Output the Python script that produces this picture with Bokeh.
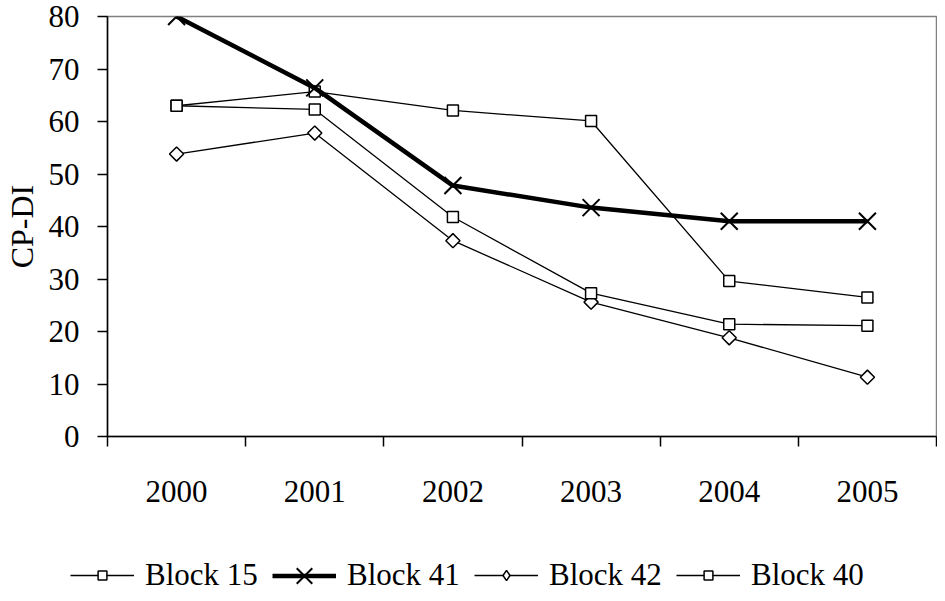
import math
from bokeh.plotting import figure
from bokeh.layouts import column
from bokeh.models import (Range1d, FixedTicker, Legend, LegendItem, ColumnDataSource)
from bokeh.embed import file_html
from bokeh.resources import INLINE

years = ["2000", "2001", "2002", "2003", "2004", "2005"]
block15 = [63.0, 65.7, 62.1, 60.1, 29.6, 26.5]
block41 = [80.0, 66.4, 47.8, 43.6, 41.0, 41.0]
block42 = [53.8, 57.8, 37.3, 25.6, 18.8, 11.3]
block40 = [63.0, 62.3, 41.8, 27.3, 21.4, 21.1]
y_ticks = [0, 10, 20, 30, 40, 50, 60, 70, 80]
labels = ["Block 15", "Block 41", "Block 42", "Block 40"]

FONT = "Liberation Serif"

x = [i + 0.5 for i in range(len(years))]
src = ColumnDataSource(dict(x=x, b15=block15, b41=block41, b42=block42, b40=block40))

p = figure(width=937, height=522, output_backend="svg", toolbar_location=None,
           x_range=Range1d(0, len(years)), y_range=Range1d(0, 80),
           min_border_left=107, min_border_right=1, min_border_top=16,
           min_border_bottom=86)
p.background_fill_color = "white"
p.border_fill_color = "white"
p.outline_line_color = "#808080"
p.outline_line_width = 1.5
p.xgrid.visible = False
p.ygrid.visible = False

# y axis
ya = p.yaxis[0]
ya.ticker = FixedTicker(ticks=y_ticks)
ya.axis_label = "CP-DI"
ya.axis_label_text_font = FONT
ya.axis_label_text_font_size = "32px"
ya.axis_label_text_font_style = "normal"
ya.axis_label_standoff = 6
ya.major_label_text_font = FONT
ya.major_label_text_font_size = "31px"
ya.major_label_standoff = 18
ya.major_tick_out = 10
ya.major_tick_in = 0
ya.minor_tick_line_color = None
ya.axis_line_width = 1.5
ya.major_tick_line_width = 1.5
ya.axis_line_color = "black"
ya.major_label_text_color = "black"
ya.axis_label_text_color = "black"

# x axis
xa = p.xaxis[0]
xa.ticker = FixedTicker(ticks=x, minor_ticks=list(range(len(years) + 1)))
xa.major_label_overrides = {xv: yr for xv, yr in zip(x, years)}
xa.major_label_text_font = FONT
xa.major_label_text_font_size = "31px"
xa.major_label_text_color = "black"
xa.major_tick_line_color = None
xa.major_tick_out = 10
xa.major_tick_in = 0
xa.minor_tick_out = 10
xa.minor_tick_in = 0
xa.minor_tick_line_color = "black"
xa.minor_tick_line_width = 1.5
xa.major_label_standoff = 34
xa.axis_line_width = 1.5
xa.axis_line_color = "black"

THIN = dict(line_color="black", line_width=1.3)
SQ = dict(marker="square", fill_color="white", line_color="black", line_width=1.5)

# main chart
p.line("x", "b15", source=src, **THIN)
p.scatter("x", "b15", source=src, size=11, **SQ)
p.line("x", "b41", source=src, line_color="black", line_width=4.5)
p.scatter("x", "b41", source=src, marker="x", size=24, line_color="black", line_width=2)
p.line("x", "b42", source=src, **THIN)
p.scatter("x", "b42", source=src, marker="square", size=10, angle=math.pi / 4,
          fill_color="white", line_color="black", line_width=1.5)
p.line("x", "b40", source=src, **THIN)
p.scatter("x", "b40", source=src, size=11, **SQ)

# legend strip: a second figure whose data lie outside its view
q = figure(width=937, height=71, output_backend="svg", toolbar_location=None,
           x_range=Range1d(100, 101), y_range=Range1d(100, 101),
           x_axis_location=None, y_axis_location=None,
           min_border_left=0, min_border_right=0, min_border_top=0,
           min_border_bottom=0)
try:
    q.frame_align = False
except Exception:
    pass
q.outline_line_color = None
q.xgrid.visible = False
q.ygrid.visible = False
q.background_fill_color = "white"
q.border_fill_color = "white"

leg_r = [
    [q.line("x", "b15", source=src, **THIN),
     q.scatter("x", "b15", source=src, size=11, **SQ)],
    [q.line("x", "b41", source=src, line_color="black", line_width=4.5),
     q.scatter("x", "b41", source=src, marker="x", size=24, line_color="black",
               line_width=2)],
    [q.line("x", "b42", source=src, **THIN),
     q.scatter("x", "b42", source=src, marker="diamond", size=14, fill_color="white",
               line_color="black", line_width=1.5)],
    [q.line("x", "b40", source=src, **THIN),
     q.scatter("x", "b40", source=src, size=11, **SQ)],
]
glyph_h = [22, 55, 26, 22]
centre = 18  # legend row centre, px above the strip's bottom
for i, (lab, rr) in enumerate(zip(labels, leg_r)):
    gh = glyph_h[i]
    lg = Legend(items=[LegendItem(label=lab, renderers=rr)],
                orientation="horizontal",
                location=(70 + 202 * i, centre - max(gh, 36) / 2))
    lg.label_text_font = FONT
    lg.label_text_font_size = "31px"
    lg.label_text_color = "black"
    lg.label_height = 36
    lg.glyph_width = 64
    lg.glyph_height = gh
    lg.label_standoff = 11
    lg.spacing = 0
    lg.padding = 0
    lg.margin = 0
    lg.border_line_color = None
    lg.background_fill_alpha = 0
    q.add_layout(lg, "center")

open("out.html", "w").write(file_html(column(p, q, spacing=0), INLINE))
